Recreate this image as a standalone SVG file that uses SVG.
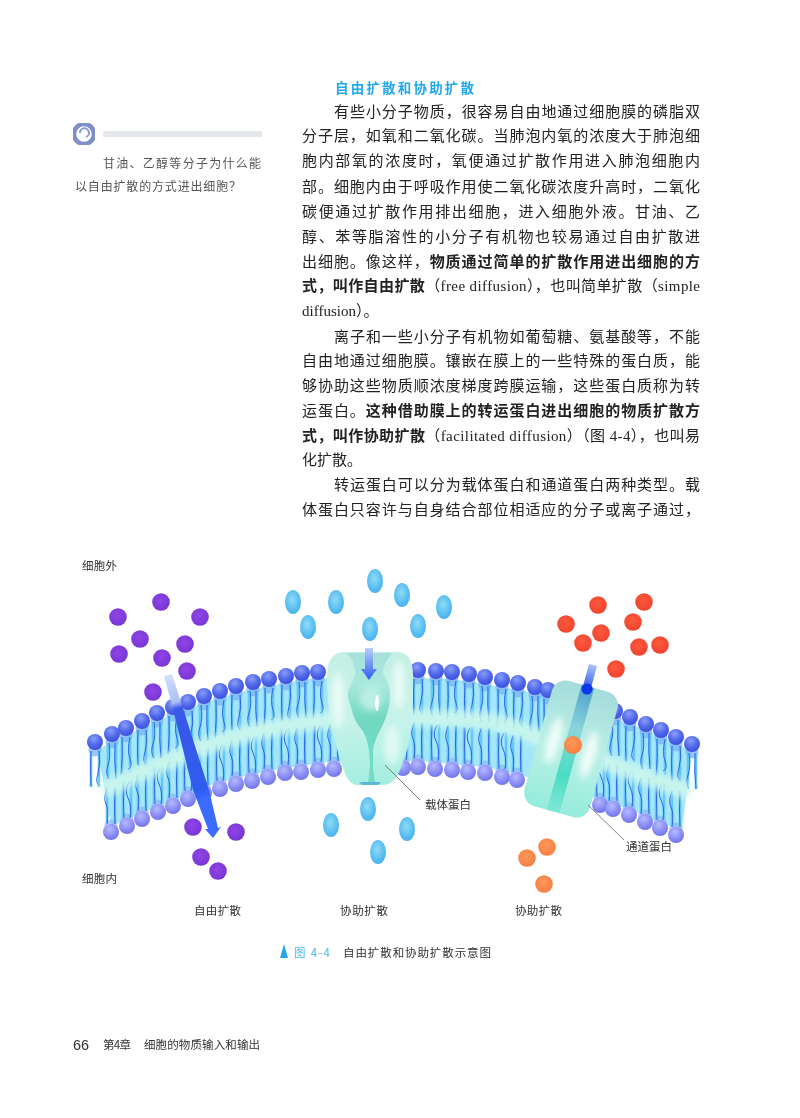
<svg xmlns="http://www.w3.org/2000/svg" width="800" height="1118" viewBox="0 0 800 1118">
<style>
text{font-family:"Liberation Serif","Noto Sans CJK SC",serif;fill:#222}
.b{font-size:15px}
.s{font-weight:700;font-family:"Noto Sans CJK SC","Liberation Sans",sans-serif}
.l{font-size:11.5px;fill:#333;font-family:"Noto Sans CJK SC",sans-serif}
.n{font-size:12px;fill:#555;font-family:"Noto Sans CJK SC",sans-serif}
.tl{fill:none;stroke:#62c6f6;stroke-width:2.6}
.td{fill:none;stroke:#2a66e2;stroke-width:1}
.lead{stroke:#666;stroke-width:.8;fill:none}
</style>
<defs>
<filter id="art" x="-5%" y="-5%" width="110%" height="110%"><feGaussianBlur stdDeviation=".6"/></filter>
<filter id="soft" x="-30%" y="-30%" width="160%" height="160%"><feGaussianBlur stdDeviation="3"/></filter>
<filter id="txt" x="-2%" y="-2%" width="104%" height="104%"><feGaussianBlur stdDeviation=".3"/></filter>
<radialGradient id="gt" cx=".42" cy=".3" r=".75"><stop offset="0" stop-color="#8a9ef8"/><stop offset=".55" stop-color="#5068ea"/><stop offset="1" stop-color="#3a4cdc"/></radialGradient>
<radialGradient id="gb" cx=".42" cy=".3" r=".75"><stop offset="0" stop-color="#b4baff"/><stop offset=".6" stop-color="#8a8cf4"/><stop offset="1" stop-color="#6c6ee6"/></radialGradient>
<radialGradient id="gbl" cx=".45" cy=".4" r=".7"><stop offset="0" stop-color="#8fdcf6"/><stop offset=".7" stop-color="#52b9f0"/><stop offset="1" stop-color="#46aaea"/></radialGradient>
<radialGradient id="gp" cx=".45" cy=".4" r=".7"><stop offset="0" stop-color="#8f46e6"/><stop offset="1" stop-color="#7532d2"/></radialGradient>
<radialGradient id="gr" cx=".45" cy=".4" r=".7"><stop offset="0" stop-color="#fb5a3c"/><stop offset="1" stop-color="#f03f2c"/></radialGradient>
<radialGradient id="go" cx=".45" cy=".4" r=".7"><stop offset="0" stop-color="#fb9a5c"/><stop offset="1" stop-color="#f67a3c"/></radialGradient>
<linearGradient id="gc" x1="0" y1="0" x2="0" y2="1"><stop offset="0" stop-color="#c4efe4"/><stop offset=".5" stop-color="#c8f3ea"/><stop offset="1" stop-color="#a4eee0"/></linearGradient>
<linearGradient id="gcv" x1="0" y1="0" x2="0" y2="1"><stop offset="0" stop-color="#a8e0dc"/><stop offset=".25" stop-color="#a8e8dc"/><stop offset=".5" stop-color="#72d8c2"/><stop offset="1" stop-color="#72dcc8"/></linearGradient>
<linearGradient id="gch" x1="0" y1="0" x2="0" y2="1"><stop offset="0" stop-color="#a4dcdc"/><stop offset=".5" stop-color="#bcf0e6"/><stop offset="1" stop-color="#94ecdc"/></linearGradient>
<linearGradient id="gchs" x1="0" y1="0" x2="0" y2="1"><stop offset="0" stop-color="#4e9fd0"/><stop offset=".35" stop-color="#8ad6d8"/><stop offset=".7" stop-color="#4adcc2"/><stop offset="1" stop-color="#80e8d6"/></linearGradient>
<linearGradient id="ga1" gradientUnits="userSpaceOnUse" x1="168" y1="675" x2="213" y2="835"><stop offset="0" stop-color="#d4e0fa"/><stop offset=".17" stop-color="#a8c0f6"/><stop offset=".21" stop-color="#3a58e6"/><stop offset=".72" stop-color="#2f5cf0"/><stop offset=".78" stop-color="#3a6cff"/><stop offset="1" stop-color="#3a6cff"/></linearGradient>
<linearGradient id="ga2" x1="0" y1="0" x2="0" y2="1"><stop offset="0" stop-color="#bcd0fa"/><stop offset="1" stop-color="#2a5cf0"/></linearGradient>
<linearGradient id="ga3" gradientUnits="userSpaceOnUse" x1="593" y1="665" x2="587" y2="690"><stop offset="0" stop-color="#a8c4f6"/><stop offset="1" stop-color="#3050e8"/></linearGradient>
<g id="h"><circle r="8" fill="url(#gt)"/></g>
<g id="k"><circle r="8" fill="url(#gb)"/></g>
<g id="a1"><circle cy="8" r="6.500" fill="#7fb0f6" opacity=".75"/><path class="tl" d="M-4 9v36M4 9v36"/><path class="td" d="M-4 9q-1 15 0 35M4 9q2 12-1 22t1 12"/></g>
<g id="a2"><circle cy="8" r="6.500" fill="#7fb0f6" opacity=".75"/><path class="tl" d="M-4 9v36M4 9v36"/><path class="td" d="M-3 9q2 14-1 22t1 14M3 9q-1 18 1 36"/></g>
<g id="a3"><circle cy="8" r="6.500" fill="#7fb0f6" opacity=".75"/><path class="tl" d="M-4 9v36M4 9v36"/><path class="td" d="M-4 9q1 18-1 38M4 9q-3 14 0 22t-2 10"/></g>
<g id="b1"><circle cy="-6" r="6.500" fill="#8fb4f6" opacity=".7"/><path class="tl" d="M-4 -9v-36M4 -9v-36"/><path class="td" d="M-4 -8q2-14-1-20t1-16M4 -8q-1-16 0-36"/></g>
<g id="b2"><circle cy="-6" r="6.500" fill="#8fb4f6" opacity=".7"/><path class="tl" d="M-4 -9v-36M4 -9v-36"/><path class="td" d="M-3 -8q-1-18 0-36M3 -8q2-12-2-20t1-16"/></g>
</defs>
<rect width="800" height="1118" fill="#fff"/>
<g id="sidebar">
<g id="icon" filter="url(#art)"><circle cx="84" cy="134" r="10" fill="none" stroke="#7f8fc8" stroke-width="4.500"/><path d="M80 133a4.500 4.500 0 1 1 6 4" fill="none" stroke="#8ba0d8" stroke-width="2"/></g>
<rect id="rule" x="103" y="131" width="159" height="6" fill="#e4e7eb" filter="url(#art)"/>
<g filter="url(#txt)"><text class="n" x="103" y="168" textLength="158">甘油、乙醇等分子为什么能</text>
<text class="n" x="75" y="191" textLength="166">以自由扩散的方式进出细胞？</text></g>
</g>
<g id="body" filter="url(#txt)">
<text x="335" y="93" style="font-size:13.500px;fill:#22a8ee;font-weight:700;font-family:'Noto Sans CJK SC',sans-serif" textLength="139">自由扩散和协助扩散</text>
<text class="b" x="334" y="117" textLength="366">有些小分子物质，很容易自由地通过细胞膜的磷脂双</text>
<text class="b" x="302" y="141" textLength="398">分子层，如氧和二氧化碳。当肺泡内氧的浓度大于肺泡细</text>
<text class="b" x="302" y="166" textLength="398">胞内部氧的浓度时，氧便通过扩散作用进入肺泡细胞内</text>
<text class="b" x="302" y="192" textLength="398">部。细胞内由于呼吸作用使二氧化碳浓度升高时，二氧化</text>
<text class="b" x="302" y="217" textLength="398">碳便通过扩散作用排出细胞，进入细胞外液。甘油、乙</text>
<text class="b" x="302" y="242" textLength="398">醇、苯等脂溶性的小分子有机物也较易通过自由扩散进</text>
<text class="b" x="302" y="267" textLength="398">出细胞。像这样，<tspan class="s">物质通过简单的扩散作用进出细胞的方</tspan></text>
<text class="b" x="302" y="291" textLength="398"><tspan class="s">式，叫作自由扩散</tspan>（free diffusion），也叫简单扩散（simple</text>
<text class="b" x="302" y="316">diffusion）。</text>
<text class="b" x="334" y="342" textLength="366">离子和一些小分子有机物如葡萄糖、氨基酸等，不能</text>
<text class="b" x="302" y="366" textLength="398">自由地通过细胞膜。镶嵌在膜上的一些特殊的蛋白质，能</text>
<text class="b" x="302" y="391" textLength="398">够协助这些物质顺浓度梯度跨膜运输，这些蛋白质称为转</text>
<text class="b" x="302" y="416" textLength="398">运蛋白。<tspan class="s">这种借助膜上的转运蛋白进出细胞的物质扩散方</tspan></text>
<text class="b" x="302" y="441" textLength="398"><tspan class="s">式，叫作协助扩散</tspan>（facilitated diffusion）（图 4-4），也叫易</text>
<text class="b" x="302" y="465">化扩散。</text>
<text class="b" x="334" y="490" textLength="366">转运蛋白可以分为载体蛋白和通道蛋白两种类型。载</text>
<text class="b" x="302" y="515" textLength="398">体蛋白只容许与自身结合部位相适应的分子或离子通过，</text>
</g>
<g id="figure" filter="url(#art)">
<g id="membrane">
<path fill="#a4e6f8" d="M97 750L112 742 142 728 173 714 204 703 236 693 269 686 302 680 318 678H420L452 679 485 684 518 690 548 695 630 724 661 737 692 751 682 830 660 823 629 809 600 799 517 774 485 767 452 764 418 761H334L301 766 268 771 236 778 204 787 173 800 142 813 111 826 105 790Z"/>
<g id="tails-top">
<use href="#a1" x="95" y="742"/><use href="#a2" x="112" y="734"/><use href="#a3" x="126" y="728"/><use href="#a1" x="142" y="721"/><use href="#a2" x="157" y="713"/><use href="#a3" x="173" y="707"/><use href="#a1" x="188" y="702"/><use href="#a2" x="204" y="696"/><use href="#a3" x="220" y="691"/><use href="#a1" x="236" y="686"/><use href="#a2" x="253" y="682"/><use href="#a3" x="269" y="679"/><use href="#a1" x="286" y="676"/><use href="#a2" x="302" y="673"/><use href="#a3" x="318" y="672"/>
<use href="#a1" x="418" y="670"/><use href="#a2" x="436" y="671"/><use href="#a3" x="452" y="672"/><use href="#a1" x="469" y="674"/><use href="#a2" x="485" y="677"/><use href="#a3" x="502" y="680"/><use href="#a1" x="518" y="683"/><use href="#a2" x="535" y="687"/><use href="#a3" x="548" y="690"/>
<use href="#a2" x="615" y="711"/><use href="#a1" x="630" y="717"/><use href="#a2" x="646" y="724"/><use href="#a3" x="661" y="730"/><use href="#a1" x="676" y="737"/><use href="#a2" x="692" y="744"/>
</g>
<g id="tails-bottom">
<use href="#b1" x="111" y="832"/><use href="#b2" x="127" y="826"/><use href="#b1" x="142" y="819"/><use href="#b2" x="158" y="812"/><use href="#b1" x="173" y="806"/><use href="#b2" x="188" y="799"/><use href="#b1" x="204" y="793"/><use href="#b2" x="220" y="789"/><use href="#b1" x="236" y="784"/><use href="#b2" x="252" y="781"/><use href="#b1" x="268" y="777"/><use href="#b2" x="285" y="773"/><use href="#b1" x="301" y="772"/><use href="#b2" x="318" y="770"/><use href="#b1" x="334" y="769"/>
<use href="#b2" x="403" y="768"/><use href="#b1" x="418" y="767"/><use href="#b2" x="435" y="769"/><use href="#b1" x="452" y="770"/><use href="#b2" x="468" y="772"/><use href="#b1" x="485" y="773"/><use href="#b2" x="502" y="777"/><use href="#b1" x="517" y="780"/>
<use href="#b2" x="600" y="805"/><use href="#b1" x="613" y="809"/><use href="#b2" x="629" y="815"/><use href="#b1" x="645" y="822"/><use href="#b2" x="660" y="828"/><use href="#b1" x="676" y="835"/>
</g>
<path fill="none" stroke="#cdf8ec" stroke-width="17" opacity=".85" filter="url(#soft)" d="M102 790C150 770 200 745 250 733S340 718 418 718 500 722 540 738 640 775 690 792"/>
<g id="heads-top">
<use href="#h" x="95" y="742"/><use href="#h" x="112" y="734"/><use href="#h" x="126" y="728"/><use href="#h" x="142" y="721"/><use href="#h" x="157" y="713"/><use href="#h" x="173" y="707"/><use href="#h" x="188" y="702"/><use href="#h" x="204" y="696"/><use href="#h" x="220" y="691"/><use href="#h" x="236" y="686"/><use href="#h" x="253" y="682"/><use href="#h" x="269" y="679"/><use href="#h" x="286" y="676"/><use href="#h" x="302" y="673"/><use href="#h" x="318" y="672"/>
<use href="#h" x="418" y="670"/><use href="#h" x="436" y="671"/><use href="#h" x="452" y="672"/><use href="#h" x="469" y="674"/><use href="#h" x="485" y="677"/><use href="#h" x="502" y="680"/><use href="#h" x="518" y="683"/><use href="#h" x="535" y="687"/><use href="#h" x="548" y="690"/>
<use href="#h" x="615" y="711"/><use href="#h" x="630" y="717"/><use href="#h" x="646" y="724"/><use href="#h" x="661" y="730"/><use href="#h" x="676" y="737"/><use href="#h" x="692" y="744"/>
</g>
<g id="heads-bottom">
<use href="#k" x="111" y="832"/><use href="#k" x="127" y="826"/><use href="#k" x="142" y="819"/><use href="#k" x="158" y="812"/><use href="#k" x="173" y="806"/><use href="#k" x="188" y="799"/><use href="#k" x="204" y="793"/><use href="#k" x="220" y="789"/><use href="#k" x="236" y="784"/><use href="#k" x="252" y="781"/><use href="#k" x="268" y="777"/><use href="#k" x="285" y="773"/><use href="#k" x="301" y="772"/><use href="#k" x="318" y="770"/><use href="#k" x="334" y="769"/>
<use href="#k" x="403" y="768"/><use href="#k" x="418" y="767"/><use href="#k" x="435" y="769"/><use href="#k" x="452" y="770"/><use href="#k" x="468" y="772"/><use href="#k" x="485" y="773"/><use href="#k" x="502" y="777"/><use href="#k" x="517" y="780"/>
<use href="#k" x="600" y="805"/><use href="#k" x="613" y="809"/><use href="#k" x="629" y="815"/><use href="#k" x="645" y="822"/><use href="#k" x="660" y="828"/><use href="#k" x="676" y="835"/>
</g>
</g>
<g id="carrier-protein">
<path fill="url(#gc)" d="M345 652H396C408 652 413 660 413 675 413 715 412 740 403 762 398 778 392 785 382 785H358C350 785 346 778 342 765 334 740 327 715 327 675 327 660 333 652 345 652Z"/>
<path fill="url(#gcv)" filter="url(#txt)" d="M347 653H393C388 658 383 665 383 673 386 680 390 686 390 693 390 705 388 713 384 722 381 730 375 737 373 750L373 767 375 783H368L370 767C370 750 367 737 362 730 357 724 353 717 352 710 349 702 348 698 348 693 349 686 355 680 355 673 355 665 352 658 347 653Z"/>
<ellipse cx="371" cy="698" rx="11" ry="12" fill="#bcefe3" filter="url(#soft)"/>
<ellipse cx="338" cy="700" rx="6" ry="28" fill="#e8fbf6" filter="url(#soft)"/><ellipse cx="399" cy="685" rx="6" ry="24" fill="#e8fbf6" filter="url(#soft)"/><ellipse cx="392" cy="745" rx="8" ry="20" fill="#dcf9f2" filter="url(#soft)"/>
<ellipse cx="377" cy="703" rx="1.800" ry="8" fill="#fff"/>
<path d="M359 782H381L378 785H362Z" fill="#58b8d4"/>
</g>
<g id="channel-protein" transform="rotate(15.5 571 749)">
<rect x="537" y="684" width="68" height="130" rx="14" fill="url(#gch)"/>
<rect x="564" y="684" width="13" height="130" fill="url(#gchs)" filter="url(#txt)"/>
<ellipse cx="552" cy="745" rx="6" ry="24" fill="#f0fdf9" filter="url(#soft)"/>
<ellipse cx="590" cy="750" rx="6" ry="24" fill="#f0fdf9" filter="url(#soft)"/>
</g>
<g id="arrows">
<path d="M164 676L172 674 182 705 209 790 218 828 221 827 213 838 205 829 208 829 193 790 172 705Z" fill="url(#ga1)"/>
<path d="M365 648H373V669H377L369 680 361 669H365Z" fill="url(#ga2)"/>
<path d="M589 664L597 666 591 688 583 686Z" fill="url(#ga3)"/>
<circle cx="587" cy="689" r="5.500" fill="#1038e8"/>
</g>
<g id="molecules">
<g fill="url(#gp)"><circle cx="118" cy="617" r="8.800"/><circle cx="161" cy="602" r="8.800"/><circle cx="200" cy="617" r="8.800"/><circle cx="140" cy="639" r="8.800"/><circle cx="185" cy="644" r="8.800"/><circle cx="119" cy="654" r="8.800"/><circle cx="162" cy="658" r="8.800"/><circle cx="187" cy="671" r="8.800"/><circle cx="153" cy="692" r="8.800"/><circle cx="193" cy="827" r="8.800"/><circle cx="236" cy="832" r="8.800"/><circle cx="201" cy="857" r="8.800"/><circle cx="218" cy="871" r="8.800"/></g>
<g fill="url(#gbl)"><ellipse cx="293" cy="602" rx="8" ry="12"/><ellipse cx="336" cy="602" rx="8" ry="12"/><ellipse cx="375" cy="581" rx="8" ry="12"/><ellipse cx="402" cy="595" rx="8" ry="12"/><ellipse cx="308" cy="627" rx="8" ry="12"/><ellipse cx="370" cy="629" rx="8" ry="12"/><ellipse cx="418" cy="626" rx="8" ry="12"/><ellipse cx="444" cy="607" rx="8" ry="12"/><ellipse cx="368" cy="809" rx="8" ry="12"/><ellipse cx="331" cy="825" rx="8" ry="12"/><ellipse cx="407" cy="829" rx="8" ry="12"/><ellipse cx="378" cy="852" rx="8" ry="12"/></g>
<g fill="url(#gr)"><circle cx="598" cy="605" r="8.800"/><circle cx="644" cy="602" r="8.800"/><circle cx="566" cy="624" r="8.800"/><circle cx="633" cy="622" r="8.800"/><circle cx="601" cy="633" r="8.800"/><circle cx="583" cy="643" r="8.800"/><circle cx="639" cy="647" r="8.800"/><circle cx="660" cy="645" r="8.800"/><circle cx="616" cy="669" r="8.800"/></g>
<g fill="url(#go)"><circle cx="573" cy="745" r="9"/><circle cx="547" cy="847" r="8.800"/><circle cx="527" cy="858" r="8.800"/><circle cx="544" cy="884" r="8.800"/></g>
</g>
<g id="connectors"><path class="lead" d="M385 765L420 800"/><path class="lead" d="M588 805L624 840"/></g>
</g>
<g id="labels" filter="url(#txt)">
<text class="l" x="82" y="570" textLength="35">细胞外</text>
<text class="l" x="82" y="883" textLength="35">细胞内</text>
<text class="l" x="425" y="809" textLength="46">载体蛋白</text>
<text class="l" x="626" y="851" textLength="46">通道蛋白</text>
<text class="l" x="194" y="915" textLength="47">自由扩散</text>
<text class="l" x="340" y="915" textLength="48">协助扩散</text>
<text class="l" x="515" y="915" textLength="47">协助扩散</text>
<path id="caption-mark" d="M284 944L288 958H280Z" fill="#27a5e8"/>
<text x="294" y="957" style="font-size:11.500px;fill:#4fb8ee;font-family:'Noto Sans CJK SC',sans-serif" textLength="36">图 4-4</text>
<text class="l" x="343" y="957" textLength="148">自由扩散和协助扩散示意图</text>
<text x="73" y="1050" style="font-size:14.500px;fill:#333;font-family:'Liberation Sans',sans-serif">66</text>
<text class="l" x="103" y="1049" textLength="28">第4章</text>
<text class="l" x="144" y="1049" textLength="116">细胞的物质输入和输出</text>
</g>
</svg>
